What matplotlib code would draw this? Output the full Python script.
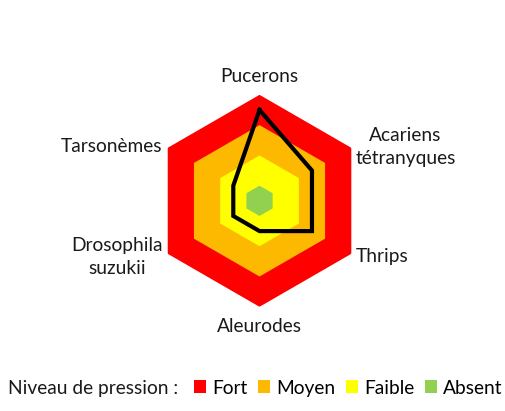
import numpy as np
import matplotlib.pyplot as plt
from matplotlib.patches import Patch

plt.rcParams['font.family'] = ['Lato', 'DejaVu Sans']

# -------- DATA --------
categories = ["Pucerons", "Acariens\ntétranyques", "Thrips",
              "Aleurodes", "Drosophila\nsuzukii", "Tarsonèmes"]
pressure = [3.5, 2.5, 2.5, 1.5, 1.5, 1.5]

level_names = ["Fort", "Moyen", "Faible", "Absent"]
level_values = [4, 3, 2, 1]
level_colors = ["#FF0000", "#FCB900", "#FFFF00", "#92D050"]

FS = 13.8

# -------- FIGURE --------
fig = plt.figure(figsize=(5.05, 4.11), dpi=100)
ax = fig.add_axes([0.304, 0.2535, 0.4198, 0.5158], projection="polar")
ax.set_theta_offset(np.pi / 2)
ax.set_theta_direction(-1)
ax.set_ylim(0.5, 4)

n = len(categories)
angles = np.linspace(0, 2 * np.pi, n, endpoint=False)
closed = np.append(angles, angles[0])

# background bands (filled hexagons)
for val, col in zip(level_values, level_colors):
    ax.fill(closed, [val] * (n + 1), color=col, lw=0, zorder=1)

# pressure line
vals = pressure + pressure[:1]
ax.plot(closed, vals, color="black", lw=3.0, zorder=3,
        solid_joinstyle="miter")

ax.grid(False)
ax.set_xticks([])
ax.set_yticks([])
ax.spines["polar"].set_visible(False)
ax.patch.set_visible(False)

# category labels, placed next to the outer hexagon vertices
offsets = [
    ((0, 18), "center"),
    ((4, 1), "left"),
    ((4, -3), "left"),
    ((0, -20), "center"),
    ((-5, -3), "right"),
    ((-5, 1), "right"),
]
for th, ((dx, dy), ha), name in zip(angles, offsets, categories):
    ax.annotate(name, xy=(th, level_values[0]), xytext=(dx, dy),
                textcoords="offset pixels", ha=ha, va="center", fontsize=FS,
                color="#1a1a1a", multialignment="center",
                annotation_clip=False, linespacing=1.4)

# -------- LEGEND --------
fig.text(8 / 505, 1 - 388 / 411, "Niveau de pression :", fontsize=FS,
         va="center", ha="left", color="#1a1a1a")
handles = [Patch(facecolor=c, edgecolor="none") for c in level_colors]
fig.legend(handles, level_names, loc="center left",
           bbox_to_anchor=(194 / 505, 1 - 388 / 411), ncol=4, frameon=False,
           fontsize=FS, handlelength=0.63, handleheight=0.63,
           handletextpad=0.32, columnspacing=0.55, borderaxespad=0,
           borderpad=0)

fig.savefig("out.png", dpi=100)
